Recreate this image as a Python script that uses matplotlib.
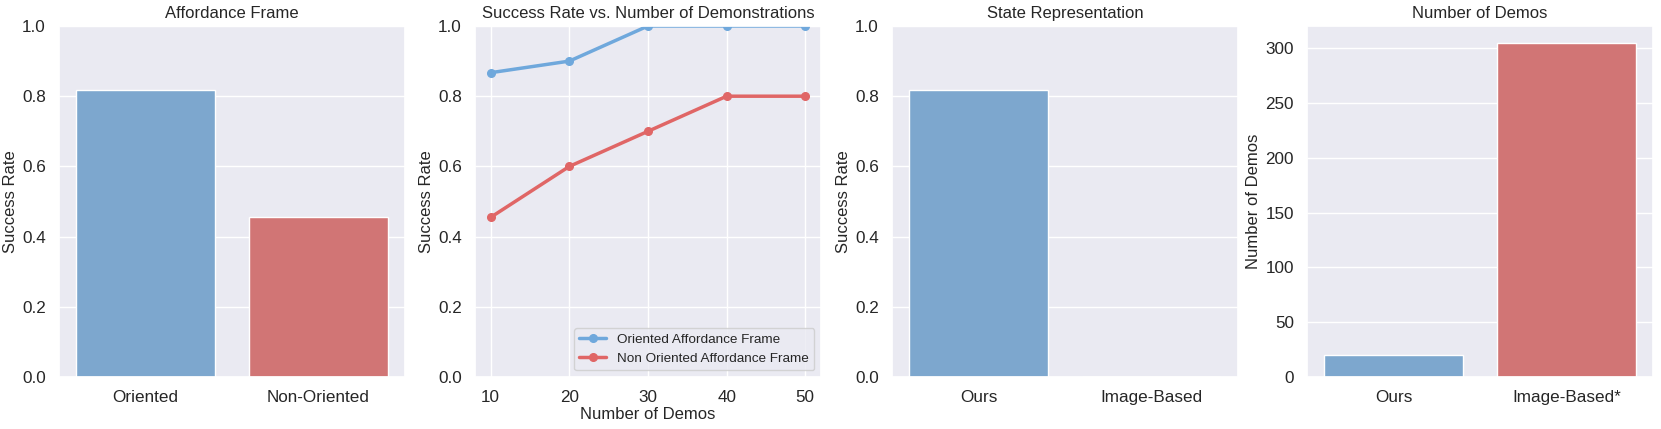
import numpy as np
import matplotlib
matplotlib.use('Agg')
import matplotlib.pyplot as plt
import seaborn as sns

sns.set_theme(style='darkgrid')
plt.rcParams['font.family'] = ['Liberation Sans', 'DejaVu Sans']

# data
frame_labels = ['Oriented', 'Non-Oriented']
frame_rates = [0.818, 0.455]

demos = [10, 20, 30, 40, 50]
oriented_rates = [0.867, 0.9, 1.0, 1.0, 1.0]
non_oriented_rates = [0.455, 0.6, 0.7, 0.8, 0.8]

state_labels = ['Ours', 'Image-Based']
state_rates = [0.818, 0.0]

demo_labels = ['Ours', 'Image-Based*']
demo_counts = [20, 305]

blue = '#6fa8dc'
red = '#e06666'
bar_colors = [sns.desaturate(blue, 0.75), sns.desaturate(red, 0.75)]

fig = plt.figure(figsize=(16.61, 4.29), dpi=100)
W, H = 1661, 429
lefts = [59, 475, 892, 1307]
width = 346
bottom, top = 377, 26
axes = [fig.add_axes([l / W, 1 - bottom / H, width / W, (bottom - top) / H]) for l in lefts]

fs = 12.3
lab = 12

def bar_panel(ax, labels, values, title, ylabel, ylim=None):
    x = np.arange(len(labels))
    ax.bar(x, values, width=0.8, color=bar_colors, edgecolor='white', linewidth=1)
    ax.set_xticks(x)
    ax.set_xticklabels(labels, fontsize=fs)
    ax.set_xlim(-0.5, len(labels) - 0.5)
    if ylim is not None:
        ax.set_ylim(*ylim)
    ax.grid(axis='x', visible=False)
    ax.set_title(title, fontsize=lab)
    ax.set_ylabel(ylabel, fontsize=lab, labelpad=3)
    ax.tick_params(axis='y', labelsize=fs)

bar_panel(axes[0], frame_labels, frame_rates, 'Affordance Frame', 'Success Rate', (0, 1.0))

ax = axes[1]
ax.plot(demos, oriented_rates, '-o', color=blue, linewidth=2.5, markersize=5.5,
        label='Oriented Affordance Frame')
ax.plot(demos, non_oriented_rates, '-o', color=red, linewidth=2.5, markersize=5.5,
        label='Non Oriented Affordance Frame')
ax.set_ylim(0, 1.0)
ax.set_xticks(demos)
ax.tick_params(labelsize=fs)
ax.set_title('Success Rate vs. Number of Demonstrations', fontsize=lab)
ax.set_xlabel('Number of Demos', fontsize=lab, labelpad=1)
ax.set_ylabel('Success Rate', fontsize=lab, labelpad=3)
ax.legend(loc='lower right', fontsize=9.7)

bar_panel(axes[2], state_labels, state_rates, 'State Representation', 'Success Rate', (0, 1.0))
bar_panel(axes[3], demo_labels, demo_counts, 'Number of Demos', 'Number of Demos')

fig.savefig('out.png', dpi=100)
